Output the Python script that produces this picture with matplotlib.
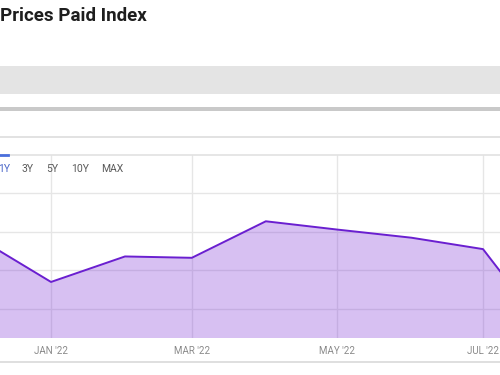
import numpy as np
import matplotlib.pyplot as plt
from matplotlib.patches import Rectangle
from matplotlib.lines import Line2D

# data (monthly)
months = ['2021-12-01', '2022-01-01', '2022-02-01', '2022-03-01', '2022-04-01',
          '2022-05-01', '2022-06-01', '2022-07-01', '2022-08-01']
values = [57.1, 34.0, 47.2, 46.5, 65.4, 61.1, 56.9, 51.0, 1.4]
tick_months = ['2022-01-01', '2022-03-01', '2022-05-01', '2022-07-01']
tick_labels = ["JAN '22", "MAR '22", "MAY '22", "JUL '22"]
ranges = ['1Y', '3Y', '5Y', '10Y', 'MAX']

plt.rcParams['font.family'] = ['Roboto', 'DejaVu Sans']

W, H = 500, 375
start = np.datetime64('2022-01-01')
days = (np.array(months, dtype='datetime64[D]') - start).astype(float)
tick_days = (np.array(tick_months, dtype='datetime64[D]') - start).astype(float)

fig = plt.figure(figsize=(5, 3.75), dpi=100)


def fy(y):
    return 1 - y / H


def fx(x):
    return x / W


# page furniture
fig.add_artist(Rectangle((0, fy(94)), 1, (94 - 66) / H, transform=fig.transFigure,
                         facecolor='#e4e4e4', edgecolor='none'))
fig.add_artist(Rectangle((0, fy(111)), 1, 4 / H, transform=fig.transFigure,
                         facecolor='#c9c9c9', edgecolor='none'))
for yy, c in [(137, '#dddddd'), (155, '#e2e2e2'), (362, '#d9d9d9')]:
    fig.add_artist(Line2D([0, 1], [fy(yy), fy(yy)], transform=fig.transFigure,
                          color=c, lw=1.2))
fig.add_artist(Line2D([0, fx(8)], [fy(155), fy(155)], transform=fig.transFigure,
                      color='#4a6fdc', lw=2))

fig.text(0.0, fy(16), 'Prices Paid Index', fontsize=13.5, fontweight='bold',
         color='#1e1e1e', va='center', ha='left')

bx = [4, 28, 52, 80, 112]
for lab, x in zip(ranges, bx):
    fig.text(fx(x), fy(169), lab, fontsize=7.5, ha='center', va='center',
             color='#4a66c8' if lab == '1Y' else '#5a5a5a')

# chart
ax = fig.add_axes([0, fy(338), 1, (338 - 155) / H])
px_per_day = (483 - 51) / 181.0
ax.set_xlim(-51 / px_per_day, 181 + 17 / px_per_day)
ax.set_ylim(5.0, 99.7)

ax.fill_between(days, values, -20, color='#7b2fd6', alpha=0.3, lw=0, zorder=2)
ax.plot(days, values, color='#6a1fd0', lw=1.4, zorder=3)

ax.set_yticks([20, 40, 60, 80])
ax.set_yticklabels([])
ax.set_xticks(tick_days)
ax.set_xticklabels(tick_labels)
ax.tick_params(axis='both', length=0)
ax.tick_params(axis='x', pad=6, labelsize=7, labelcolor='#8a8a8a')
ax.grid(True, color='#e6e6e6', lw=1, zorder=1)
ax.set_axisbelow(True)
for s in ax.spines.values():
    s.set_visible(False)

fig.savefig('out.png', dpi=100)
